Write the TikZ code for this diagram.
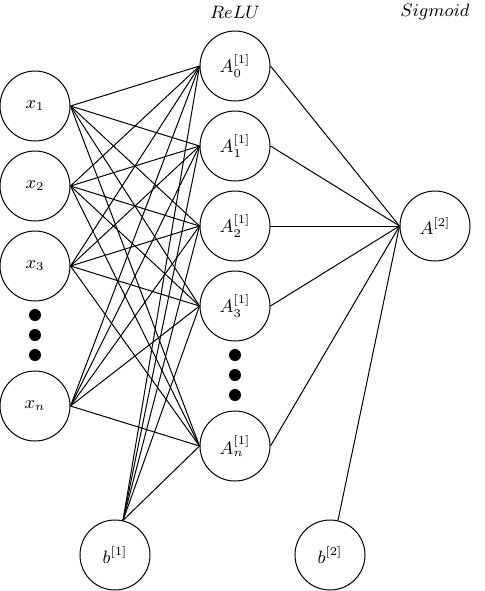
\documentclass[tikz,border=0pt]{standalone}
\usepackage{amsmath}
\usetikzlibrary{calc, positioning}

\begin{document}
\begin{tikzpicture}[x=0.5pt, y=-0.5pt, line width=0.5pt,
  neuron/.style={draw, circle, minimum size=35pt, inner sep=0pt,
    font=\fontsize{8.6pt}{10pt}\selectfont},
  dot/.style={fill=black}]
\useasboundingbox (0,0) rectangle (484,591);
\def\r{6}

% inputs
\node[neuron] (x1) at (35,106) {$x_1$};
\node[neuron] (x2) at (35,186) {$x_2$};
\node[neuron] (x3) at (35,266) {$x_3$};
\node[neuron] (xn) at (35,406) {$x_n$};

\fill[dot] (35,315) circle (\r);
\fill[dot] (35,335) circle (\r);
\fill[dot] (35,355) circle (\r);

% hidden layer
\node[neuron] (a0) at (235,66) {$A^{[1]}_0$};
\node[neuron] (a1) at (235,146) {$A^{[1]}_1$};
\node[neuron] (a2) at (235,226) {$A^{[1]}_2$};
\node[neuron] (a3) at (235,306) {$A^{[1]}_3$};
\node[neuron] (an) at (235,446) {$A^{[1]}_n$};

\fill[dot] (235,355) circle (\r);
\fill[dot] (235,375) circle (\r);
\fill[dot] (235,395) circle (\r);

% output and biases
\node[neuron] (out) at (435,226) {$A^{[2]}$};
\node[neuron] (b1) at (115,555) {$b^{[1]}$};
\node[neuron] (b2) at (330,555) {$b^{[2]}$};

\node[font=\fontsize{8.6pt}{10pt}\selectfont] (relu) at (235,12) {$ReLU$};
\node[font=\fontsize{8.6pt}{10pt}\selectfont] (sigm) at (435,12) {$Sigmoid$};

% connections
\foreach \i in {x1,x2,x3,xn}
  \foreach \j in {a0,a1,a2,a3,an}
    \draw (\i.east) -- (\j.west);
\foreach \j in {a0,a1,a2,a3,an} {
  \draw (b1.77) -- (\j.west);
  \draw (\j.east) -- (out.west);
}
\draw (b2.77) -- (out.west);
\end{tikzpicture}
\end{document}
